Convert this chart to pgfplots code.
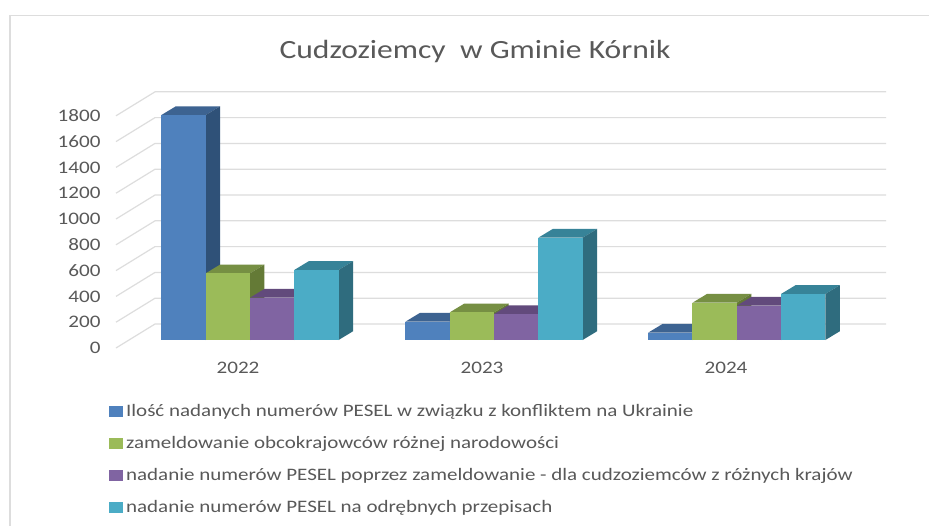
\documentclass[border=0pt]{standalone}
\usepackage{pgfplots}
\pgfplotsset{compat=1.18}
\usepackage{fontspec}
\setmainfont[FakeStretch=1.2]{Carlito}
\definecolor{txt}{HTML}{595959}
\definecolor{gridc}{HTML}{DDDDDD}
\definecolor{frontA}{HTML}{4F81BD}\definecolor{sideA}{HTML}{2F5178}\definecolor{topA}{HTML}{3D6391}
\definecolor{frontB}{HTML}{9BBB59}\definecolor{sideB}{HTML}{647A36}\definecolor{topB}{HTML}{768F43}
\definecolor{frontC}{HTML}{8064A2}\definecolor{sideC}{HTML}{503C68}\definecolor{topC}{HTML}{624A7C}
\definecolor{frontD}{HTML}{4BACC6}\definecolor{sideD}{HTML}{2F6C7E}\definecolor{topD}{HTML}{378398}
% bar: {group}{series 0-3}{value}{colour letter}
\newcommand{\tbar}[4]{%
  \pgfmathsetmacro{\xa}{#1+(12-88.6+44.3*#2)/244}%
  \pgfmathsetmacro{\xb}{\xa+44.3/244}%
  \pgfmathsetmacro{\xc}{\xa+14.5/244}%
  \pgfmathsetmacro{\xd}{\xb+14.5/244}%
  \pgfmathsetmacro{\ya}{62}%
  \pgfmathsetmacro{\yb}{62+#3}%
  \pgfmathsetmacro{\yc}{62+#3+68}%
  \pgfmathsetmacro{\yd}{62+68}%
  \addplot[forget plot,draw=none,fill=top#4] coordinates {(\xa,\yb) (\xb,\yb) (\xd,\yc) (\xc,\yc)} -- cycle;
  \addplot[forget plot,draw=none,fill=side#4] coordinates {(\xb,\ya) (\xd,\yd) (\xd,\yc) (\xb,\yb)} -- cycle;
  \addplot[forget plot,draw=none,fill=front#4] coordinates {(\xa,\ya) (\xb,\ya) (\xb,\yb) (\xa,\yb)} -- cycle;
}
\newcommand{\gridl}[1]{%
  \pgfmathsetmacro{\yb}{#1+186}%
  \addplot[forget plot,gridc,line width=1.2pt] coordinates {(-0.5,#1) (-0.34,\yb) (2.656,\yb)};
}
\begin{document}
\begin{tikzpicture}[x=1pt,y=1pt]
\useasboundingbox (0,0) rectangle (929,525);
\fill[white] (0,0) rectangle (929,525);
\draw[gridc,line width=1.6pt] (10,-2) -- (10,509.5) -- (931,509.5);
\begin{axis}[
  at={(116pt,177pt)},anchor=south west,scale only axis,width=732pt,height=232.2pt,
  xmin=-0.5,xmax=2.5,ymin=0,ymax=1800,clip=false,
  axis line style={draw=none},major tick length=0pt,
  xtick={0,1,2},xticklabels={2022,2023,2024},
  ytick={0,200,400,600,800,1000,1200,1400,1600,1800},
  /pgf/number format/assume math mode=true,
  /pgf/number format/.cd,set thousands separator={},1000 sep={},/pgfplots/.cd,
  tick label style={font=\fontsize{17.6}{20}\selectfont,text=txt},
  xticklabel style={yshift=-11pt},
  yticklabel style={xshift=-12pt,yshift=0pt},
  legend style={at={(-0.009,-0.232)},anchor=north west,draw=none,fill=none,
    font=\fontsize{17.5}{19}\selectfont,text=txt,row sep=14.6pt,inner xsep=0pt,inner ysep=0pt,
    /tikz/column 1/.style={column sep=2pt}},
  legend cell align=left,
]
\addlegendimage{only marks,mark=square*,mark size=5pt,frontA,mark options={draw=none,fill=frontA,xscale=1.25}}
\addlegendentry{Ilość nadanych numerów PESEL w związku z konfliktem na Ukrainie}
\addlegendimage{only marks,mark=square*,mark size=5pt,frontB,mark options={draw=none,fill=frontB,xscale=1.25}}
\addlegendentry{zameldowanie obcokrajowców różnej narodowości}
\addlegendimage{only marks,mark=square*,mark size=5pt,frontC,mark options={draw=none,fill=frontC,xscale=1.25}}
\addlegendentry{nadanie numerów PESEL poprzez zameldowanie - dla cudzoziemców z różnych krajów}
\addlegendimage{only marks,mark=square*,mark size=5pt,frontD,mark options={draw=none,fill=frontD,xscale=1.25}}
\addlegendentry{nadanie numerów PESEL na odrębnych przepisach}
\gridl{0}\gridl{200}\gridl{400}\gridl{600}\gridl{800}\gridl{1000}\gridl{1200}\gridl{1400}\gridl{1600}\gridl{1800}
\tbar{0}{0}{1744}{A}\tbar{0}{1}{517}{B}\tbar{0}{2}{328}{C}\tbar{0}{3}{543}{D}
\tbar{1}{0}{142}{A}\tbar{1}{1}{214}{B}\tbar{1}{2}{201}{C}\tbar{1}{3}{793}{D}
\tbar{1.995}{0}{57}{A}\tbar{1.995}{1}{289}{B}\tbar{1.995}{2}{266}{C}\tbar{1.995}{3}{357}{D}
\end{axis}
\node[text=txt,font=\fontsize{26.3}{30}\selectfont] at (475,474) {Cudzoziemcy\ \ w Gminie Kórnik};
\end{tikzpicture}
\end{document}
